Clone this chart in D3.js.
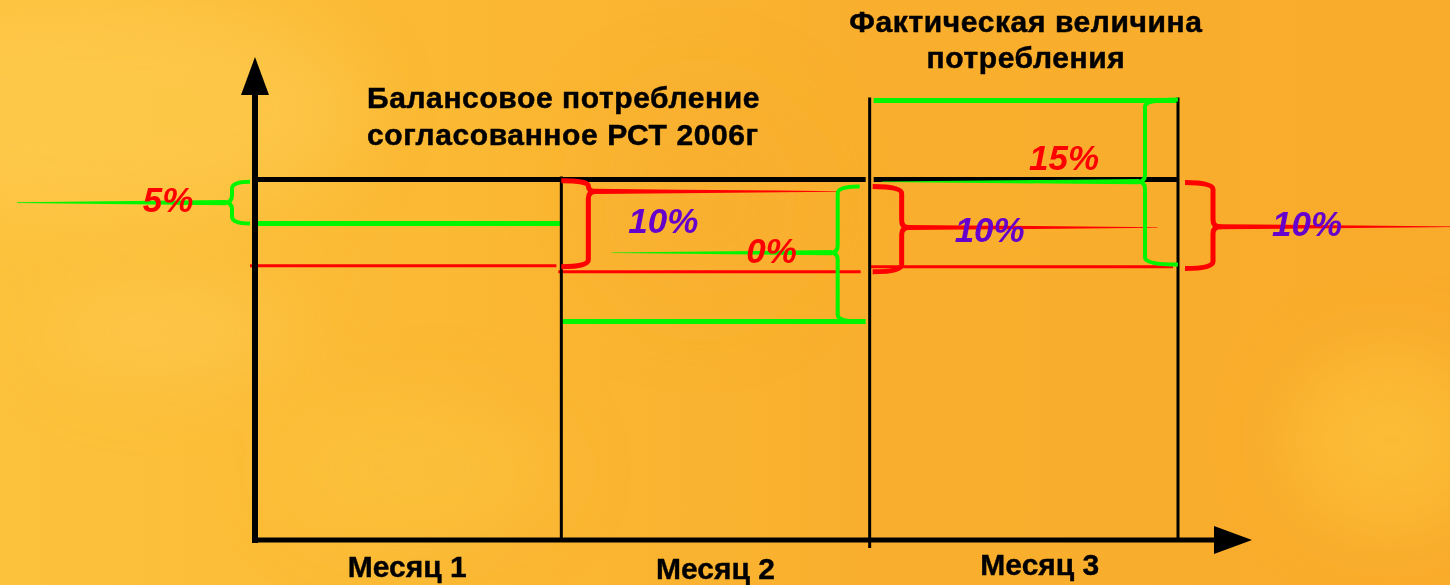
<!DOCTYPE html>
<html>
<head>
<meta charset="utf-8">
<style>
  html, body { margin: 0; padding: 0; }
  body { width: 1450px; height: 585px; overflow: hidden; font-family: "Liberation Sans", Arial, sans-serif; }
  svg { display: block; }
  .title { font-weight: bold; font-size: 30px; fill: #000; stroke: #000; stroke-width: 0.5px; letter-spacing: 0.6px; }
  .month text { font-weight: bold; font-size: 30px; fill: #000; stroke: #000; stroke-width: 0.4px; font-family: "Liberation Sans", Arial, sans-serif; }
  .pct { font-weight: bold; font-style: italic; font-size: 35px; }
</style>
<script src="https://cdn.jsdelivr.net/npm/d3@7"></script>
</head>
<body>
<svg id="chart"></svg>
<script>
// consumption levels per month (balance level = 100)
const months = ["Месяц 1", "Месяц 2", "Месяц 3"];
const balance = [100, 100, 100];          // Балансовое потребление (black)
const actual = [87.8, 60.6, 121.9];       // Фактическая величина (green)
const lowerLimit = [76.1, 74.4, 75.8];    // -10% limit (red)

// deviation braces
const braceMonth = [0, 1, 1, 2, 2, 2];
const braceTop = [99.4, 99.7, 98.1, 122.2, 98.1, 99.2];
const braceBottom = [87.8, 75.8, 60.6, 76.4, 74.4, 75.3];
const braceCusp = [93.6, 96.7, 79.7, 99.4, 86.7, 86.9];
const braceLabels = ["5%", "10%", "0%", "15%", "10%", "10%"];
const braceKind = ["actual", "limit", "actual", "actual", "limit", "limit"];

const titleBalance = ["Балансовое потребление", "согласованное РСТ 2006г"];
const titleActual = ["Фактическая величина", "потребления"];

// where each brace sits relative to its month band (layout only)
const braceLayout = [
  { side: "start", off: -21, dir: -1, reach: 18,  tail: 209, lx: -64, ly: 9 },
  { side: "start", off: 27,  dir: 1,  reach: -27, tail: 244, lx: 75,  ly: 42 },
  { side: "end",   off: -32, dir: -1, reach: 22,  tail: 220, lx: -66, ly: 10 },
  { side: "end",   off: -33, dir: -1, reach: 33,  tail: 257, lx: -81, ly: -12 },
  { side: "start", off: 32,  dir: 1,  reach: -29, tail: 250, lx: 88,  ly: 15 },
  { side: "end",   off: 35,  dir: 1,  reach: -28, tail: 240, lx: 94,  ly: 9 }
];

const W = 1450, H = 585;
const RED = "#ff0000", GREEN = "#00f500", PURPLE = "#6600cc";

const svg = d3.select("#chart").attr("width", W).attr("height", H);

// ---- background
const defs = svg.append("defs");
const grad = defs.append("linearGradient").attr("id", "bg")
  .attr("x1", 0).attr("x2", 1).attr("y1", 0).attr("y2", 0);
[[0, "#fdc23c"], [0.3, "#fbb934"], [0.6, "#f9af2d"], [1, "#f9ab2b"]].forEach(s =>
  grad.append("stop").attr("offset", s[0]).attr("stop-color", s[1]));
defs.append("filter").attr("id", "soft").attr("x", "-50%").attr("y", "-50%").attr("width", "200%").attr("height", "200%")
  .append("feGaussianBlur").attr("stdDeviation", 35);

svg.append("rect").attr("width", W).attr("height", H).attr("fill", "url(#bg)");
const blobs = svg.append("g").attr("filter", "url(#soft)");
[[120, 110, 240, 110, "#fecd52", 0.55], [170, 330, 120, 50, "#ffd05c", 0.4],
 [420, 470, 140, 70, "#fdc945", 0.35], [1390, 440, 100, 90, "#fec63a", 0.6],
 [700, 200, 120, 120, "#f8a828", 0.3]]
  .forEach(b => blobs.append("ellipse").attr("cx", b[0]).attr("cy", b[1])
    .attr("rx", b[2]).attr("ry", b[3]).attr("fill", b[4]).attr("opacity", b[5]));

// ---- scales
const x = d3.scaleBand().domain(months).range([253, 1178]);
const bw = x.bandwidth();
const y = d3.scaleLinear().domain([0, 134]).range([540, 57]);

// small gap around the third month's divider
const startInset = i => (i === 2 ? 4 : 0);
const endInset = i => (i === 1 ? 4 : 0);

function drawLevel(values, color, width, dx0, dx1) {
  svg.append("g").selectAll("line")
    .data(months)
    .join("line")
    .attr("x1", (m, i) => x(m) + startInset(i) + dx0)
    .attr("x2", (m, i) => x(m) + bw - endInset(i) + dx1)
    .attr("y1", (m, i) => y(values[i]))
    .attr("y2", (m, i) => y(values[i]))
    .attr("stroke", color)
    .attr("stroke-width", width);
}

drawLevel(lowerLimit, RED, 3, -3, -5);
drawLevel(actual, GREEN, 5, 0, 0);
drawLevel(balance, "#000", 5, 0, 0);

// month dividers, up to the higher of the adjacent tops
const topOf = i => Math.max(balance[i], actual[i]);
const bounds = [1, 2, 3].map(k => ({
  x: k < 3 ? x(months[k]) : x(months[2]) + bw,
  top: Math.max(topOf(k - 1), topOf(Math.min(k, 2))),
  k
}));
svg.append("g").selectAll("line")
  .data(bounds)
  .join("line")
  .attr("x1", d => d.x).attr("x2", d => d.x)
  .attr("y1", d => y(d.top) - 3)
  .attr("y2", d => (d.k === 2 ? y(0) + 8 : y(0)))
  .attr("stroke", "#000")
  .attr("stroke-width", 3);

// ---- axes with arrows
const x0 = x.range()[0] + 2, yBase = y(0);
const xTip = x.range()[1] + 74;
svg.append("line").attr("x1", x0).attr("x2", x0).attr("y1", yBase + 3).attr("y2", y(127))
  .attr("stroke", "#000").attr("stroke-width", 6);
svg.append("path")
  .attr("d", `M${x0},${y(134)} L${x0 - 14},${y(134) + 38} L${x0 + 14},${y(134) + 38} Z`)
  .attr("fill", "#000");
svg.append("line").attr("x1", x0 - 3).attr("x2", xTip - 34).attr("y1", yBase).attr("y2", yBase)
  .attr("stroke", "#000").attr("stroke-width", 5);
svg.append("path")
  .attr("d", `M${xTip},${yBase} L${xTip - 38},${yBase - 14} L${xTip - 38},${yBase + 14} Z`)
  .attr("fill", "#000");

const labelNudge = [[0, 0], [0, 2], [16, -2]];
const monthAxis = svg.append("g")
  .attr("class", "month")
  .attr("transform", `translate(0,${yBase})`)
  .call(d3.axisBottom(x).tickSize(0).tickPadding(16));
monthAxis.select(".domain").remove();
monthAxis.selectAll(".tick text")
  .attr("dx", (d, i) => labelNudge[i][0])
  .attr("transform", (d, i) => `translate(0,${labelNudge[i][1]})`);

// ---- braces
const braces = braceLabels.map((label, i) => {
  const L = braceLayout[i];
  const base = x(months[braceMonth[i]]) + (L.side === "end" ? bw : 0);
  return {
    label, kind: braceKind[i], bx: base + L.off, L,
    t: y(braceTop[i]), b: y(braceBottom[i]), c: y(braceCusp[i])
  };
});

function bracePath(d) {
  const { bx, t, b, c } = d, dir = d.L.dir, ex = bx + d.L.reach;
  const r1 = Math.min(7, (c - t) / 2), r2 = Math.min(7, (b - c) / 2), rc = 7;
  const p = d3.path();
  p.moveTo(ex, t);
  p.quadraticCurveTo(bx, t, bx, t + r1);
  p.lineTo(bx, c - r1);
  p.quadraticCurveTo(bx, c, bx + dir * rc, c);
  p.quadraticCurveTo(bx, c, bx, c + r2);
  p.lineTo(bx, b - r2);
  p.quadraticCurveTo(bx, b, ex, b);
  return p.toString();
}

function tailPath(d) {
  const dir = d.L.dir, cx = d.bx + dir * 6, c = d.c;
  const mid = cx + dir * d.L.tail * 0.35, end = cx + dir * d.L.tail;
  return `M${cx},${c - 2.6} L${mid},${c - 1.8} L${end},${c - 0.3} L${end},${c + 0.3} L${mid},${c + 1.8} L${cx},${c + 2.6} Z`;
}

const colorOf = k => (k === "actual" ? GREEN : RED);
const labelColorOf = k => (k === "actual" ? RED : PURPLE);

svg.append("g").selectAll("path")
  .data(braces)
  .join("path")
  .attr("d", tailPath)
  .attr("fill", d => colorOf(d.kind));

svg.append("g").selectAll("path")
  .data(braces)
  .join("path")
  .attr("d", bracePath)
  .attr("fill", "none")
  .attr("stroke", d => colorOf(d.kind))
  .attr("stroke-width", d => (d.kind === "actual" ? 4 : 5))
  .attr("stroke-linejoin", "round");

svg.append("g").selectAll("text")
  .data(braces)
  .join("text")
  .attr("class", "pct")
  .attr("x", d => d.bx + d.L.lx)
  .attr("y", d => d.c + d.L.ly)
  .attr("text-anchor", "middle")
  .attr("fill", d => labelColorOf(d.kind))
  .text(d => d.label);

// ---- titles
svg.append("text").attr("class", "title")
  .selectAll("tspan").data(titleBalance).join("tspan")
  .attr("x", 367).attr("y", (d, i) => 108 + i * 37)
  .text(d => d);

svg.append("text").attr("class", "title").attr("text-anchor", "middle")
  .selectAll("tspan").data(titleActual).join("tspan")
  .attr("x", 1026).attr("y", (d, i) => 32 + i * 36)
  .text(d => d);
</script>
</body>
</html>
